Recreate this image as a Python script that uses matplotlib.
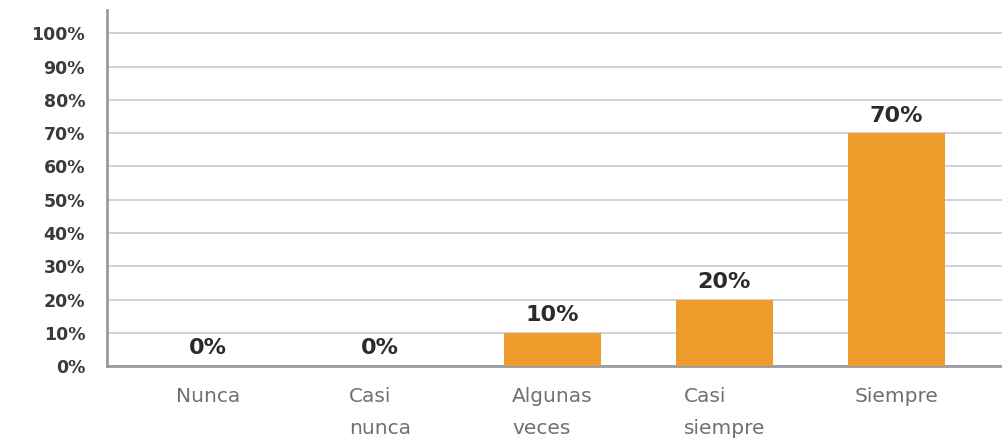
import matplotlib.pyplot as plt
import numpy as np

# survey answers and their share
categories = ['Nunca', 'Casi\nnunca', 'Algunas\nveces', 'Casi\nsiempre', 'Siempre']
values = [0, 0, 10, 20, 70]
yticks = [0, 10, 20, 30, 40, 50, 60, 70, 80, 90, 100]

plt.rcParams['font.family'] = 'DejaVu Sans'

fig = plt.figure(figsize=(10.03, 4.41), dpi=100)
ax = fig.add_axes([0.107, 0.170, 0.893, 0.807])

x = np.arange(len(categories))
bars = ax.bar(x, values, width=0.565, color='#EE9C2C', zorder=3)

for xi, v in zip(x, values):
    ax.text(xi, v + 2.3, '%d%%' % v, ha='center', va='bottom',
            fontsize=16, fontweight='bold', color='#2b2b2b', zorder=4)

ax.set_ylim(0, 107)
ax.set_xlim(-0.587, 4.62)
ax.set_yticks(yticks)
ax.set_yticklabels(['%d%%' % t for t in yticks], fontsize=12.5,
                   fontweight='bold', color='#3a3a3a')
ax.set_xticks(x)
ax.set_xticklabels(categories, fontsize=14.5, color='#707070',
                   linespacing=1.85, multialignment='left')
ax.tick_params(axis='y', length=0, pad=16)
ax.tick_params(axis='x', length=0, pad=15)

ax.grid(axis='y', color='#cbcfd8', linewidth=1.3, zorder=0)
for s in ['top', 'right']:
    ax.spines[s].set_visible(False)
for s in ['left', 'bottom']:
    ax.spines[s].set_color('#9a9ca3')
    ax.spines[s].set_linewidth(2)

fig.savefig('out.png', dpi=100)
